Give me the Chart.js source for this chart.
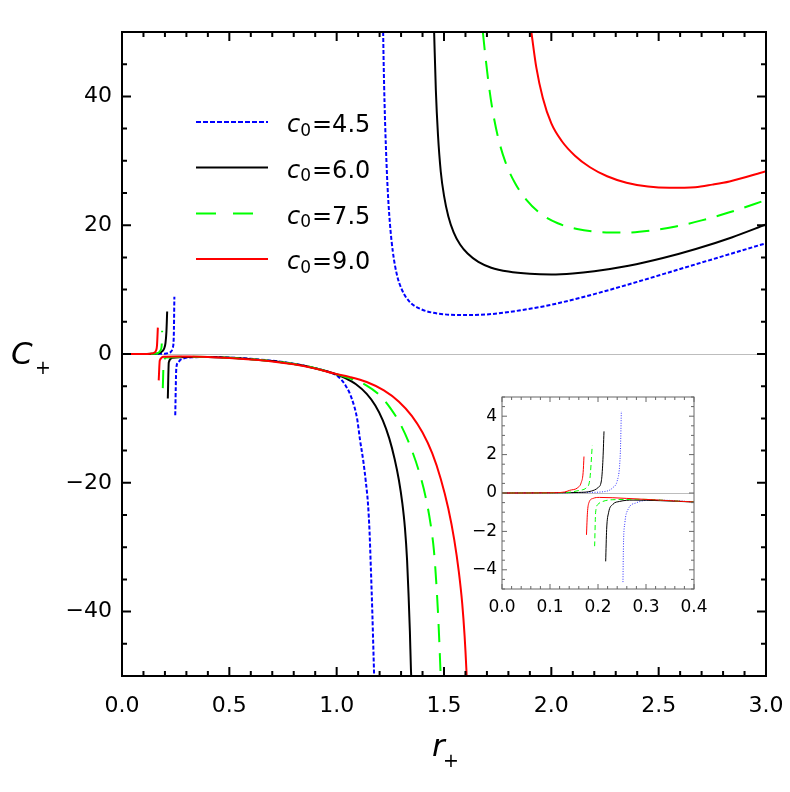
<!DOCTYPE html>
<html>
<head>
<meta charset="utf-8">
<script src="https://cdn.jsdelivr.net/npm/chart.js@4.4.0/dist/chart.umd.min.js"></script>
<style>
  html, body { margin: 0; padding: 0; background: #fff; }
  #wrap { position: relative; width: 790px; height: 792px; }
  #main { position: absolute; left: 0; top: 0; }
  #inset { position: absolute; left: 466px; top: 385px; }
</style>
</head>
<body>
<div id="wrap">
  <canvas id="main" width="790" height="792"></canvas>
  <canvas id="inset" width="246" height="235"></canvas>
</div>
<script>
// c0 values shown in the legend
const c0Labels = ['4.5', '6.0', '7.5', '9.0'];

// main plot ticks
const xTicks = [0, 0.5, 1.0, 1.5, 2.0, 2.5, 3.0];
const yTicks = [-40, -20, 0, 20, 40];
// inset ticks
const xTicksInset = [0, 0.1, 0.2, 0.3, 0.4];
const yTicksInset = [-4, -2, 0, 2, 4];

// main curves (null = break at a divergence)
const r45 = [0, 0.05, 0.1, 0.15, 0.2, 0.215, 0.228, 0.236, 0.241, 0.244, 0.246,
  0.248, 0.253, 0.262, 0.272, 0.29, 0.334, 0.4, 0.5, 0.6, 0.7, 0.8, 0.9, 0.95, 0.984, 1.01, 1.04, 1.07, 1.095, 1.109, 1.124, 1.136, 1.146, 1.153, 1.159, 1.166, 1.172, 1.175, 1.196,
  1.2165, 1.219, 1.223, 1.229, 1.237, 1.248, 1.262, 1.28, 1.305, 1.34, 1.39, 1.45, 1.53, 1.62, 1.72, 1.85, 2.0, 2.2, 2.4, 2.6, 2.8, 3.0];
const C45 = [0, 0, 0.01, 0.02, 0.05, 0.15, 0.35, 0.9, 2.5, 8.9, null,
  -9.5, -2.2, -1.3, -0.9, -0.65, -0.5, -0.45, -0.55, -0.75, -1.05, -1.5, -2.2, -2.65, -3.05, -3.6, -4.8, -6.9, -10.0, -13.4, -16.6, -19.9, -23.3, -27.5, -33, -40, -47, -50.5, null,
  50, 45, 39, 32.5, 26.0, 20.3, 15.8, 12.4, 9.9, 8.1, 7.0, 6.4, 6.1, 6.05, 6.2, 6.75, 7.65, 9.3, 11.2, 13.2, 15.2, 17.2];

const r60 = [0, 0.05, 0.1, 0.15, 0.175, 0.187, 0.197, 0.2025, 0.207, 0.2104, 0.212,
  0.2134, 0.218, 0.2337, 0.3, 0.4, 0.5, 0.6, 0.7, 0.8, 0.9, 0.984, 1.04, 1.09, 1.14, 1.18, 1.215, 1.245, 1.27, 1.29, 1.306, 1.318, 1.328, 1.335, 1.341, 1.346, 1.348, 1.4,
  1.454, 1.462, 1.472, 1.485, 1.50, 1.52, 1.545, 1.575, 1.61, 1.66, 1.72, 1.80, 1.90, 2.0, 2.1, 2.2, 2.36, 2.52, 2.673, 2.84, 3.0];
const C60 = [0, 0, 0.01, 0.04, 0.15, 0.4, 0.9, 1.7, 3.5, 6.6, null,
  -6.9, -1.3, -0.6, -0.45, -0.45, -0.6, -0.8, -1.1, -1.55, -2.2, -3.0, -3.75, -4.7, -6.2, -8.0, -10.3, -13.1, -16.3, -19.6, -23.2, -27.0, -32, -37.5, -43, -49, -50.5, null,
  50, 41, 34, 28.3, 24.6, 21.4, 18.9, 17.0, 15.6, 14.3, 13.4, 12.8, 12.45, 12.35, 12.5, 12.85, 13.7, 14.9, 16.3, 18.1, 20.1];

const r75 = [0, 0.05, 0.1, 0.15, 0.17, 0.18, 0.185, 0.187, 0.1885,
  0.19, 0.1946, 0.21, 0.25, 0.3, 0.4, 0.5, 0.6, 0.7, 0.8, 0.9, 0.984, 1.06, 1.14, 1.2, 1.25, 1.3, 1.345, 1.385, 1.415, 1.437, 1.453, 1.465, 1.474, 1.481, 1.485, 1.58,
  1.681, 1.692, 1.706, 1.724, 1.75, 1.785, 1.83, 1.885, 1.95, 2.03, 2.12, 2.22, 2.34, 2.46, 2.58, 2.70, 2.83, 3.0];
const C75 = [0, 0, 0.01, 0.05, 0.2, 0.6, 1.4, 3.6, null,
  -5.3, -1.0, -0.55, -0.45, -0.42, -0.45, -0.6, -0.8, -1.1, -1.55, -2.2, -3.0, -3.75, -4.9, -6.4, -8.4, -11.1, -14.5, -18.4, -22.3, -26.3, -30.5, -36, -41.5, -47, -50.5, null,
  50, 46.5, 42.5, 38.3, 33.9, 29.9, 26.6, 23.9, 21.8, 20.3, 19.4, 18.95, 18.85, 19.15, 19.8, 20.75, 22.0, 23.9];

const r90 = [0, 0.05, 0.1, 0.13, 0.15, 0.158, 0.163, 0.167, 0.169,
  0.171, 0.176, 0.195, 0.25, 0.3, 0.4, 0.5, 0.6, 0.7, 0.8, 0.9, 0.984, 1.06, 1.14, 1.22, 1.29, 1.35, 1.40, 1.445, 1.485, 1.52, 1.548, 1.569, 1.585, 1.596, 1.604, 1.606, 1.75,
  1.907, 1.93, 1.96, 2.0, 2.05, 2.11, 2.18, 2.26, 2.35, 2.45, 2.55, 2.67, 2.75, 2.83, 3.0];
const C90 = [0, 0, 0.01, 0.05, 0.2, 0.5, 1.3, 4.1, null,
  -4.1, -1.0, -0.42, -0.38, -0.4, -0.47, -0.62, -0.85, -1.15, -1.6, -2.25, -3.0, -3.55, -4.35, -5.65, -7.4, -9.6, -12.2, -15.4, -19.4, -24.0, -28.9, -33.8, -38.8, -43.8, -48.8, -50.5, null,
  50, 44.5, 39.8, 35.8, 33.0, 30.8, 29.0, 27.6, 26.6, 26.0, 25.8, 25.9, 26.3, 26.8, 28.4];

// inset curves (0 < r < 0.4)
const ri45 = [0, 0.1, 0.18, 0.217, 0.231, 0.24, 0.245, 0.247, 0.2486, 0.25,
  0.252, 0.253, 0.256, 0.2625, 0.28, 0.315, 0.363, 0.4];
const Ci45 = [0, 0.01, 0.03, 0.09, 0.28, 0.63, 1.41, 2.46, 4.26, null,
  -4.64, -2.77, -1.55, -0.86, -0.51, -0.37, -0.4, -0.47];
const ri60 = [0, 0.1, 0.16, 0.186, 0.2, 0.207, 0.21, 0.2125, 0.214,
  0.216, 0.218, 0.222, 0.231, 0.245, 0.273, 0.33, 0.4];
const Ci60 = [0, 0.01, 0.03, 0.1, 0.28, 0.63, 1.59, 3.21, null,
  -3.56, -1.90, -1.03, -0.59, -0.44, -0.37, -0.4, -0.47];
const ri75 = [0, 0.1, 0.14, 0.162, 0.176, 0.183, 0.188, 0.19,
  0.193, 0.195, 0.2, 0.21, 0.231, 0.294, 0.35, 0.4];
const Ci75 = [0, 0.01, 0.04, 0.14, 0.28, 0.72, 2.46, null,
  -2.77, -1.03, -0.59, -0.44, -0.35, -0.33, -0.4, -0.47];
const ri90 = [0, 0.05, 0.1, 0.13, 0.141, 0.158, 0.165, 0.169, 0.1708, 0.173,
  0.176, 0.178, 0.181, 0.19, 0.203, 0.259, 0.328, 0.4];
const Ci90 = [0, 0, 0.01, 0.05, 0.14, 0.28, 0.54, 1.06, 1.90, null,
  -2.18, -1.03, -0.51, -0.28, -0.23, -0.28, -0.37, -0.47];

const FONT = '"DejaVu Sans", "Liberation Sans", Arial, sans-serif';

function pts(rs, cs) {
  return rs.map((r, i) => ({ x: r, y: cs[i] }));
}

function minusFmt(v) {
  return v < 0 ? '\u2212' + Math.abs(v) : String(v);
}

// fixed axis sizes; drop the label overflow padding so the plot box stays put
function fixX(h) {
  return s => { s.height = h; s.paddingLeft = 0; s.paddingRight = 0; };
}
function fixY(w) {
  return s => { s.width = w; s.paddingTop = 0; s.paddingBottom = 0; };
}

// frame + inward ticks on all four sides, and the gray zero line
function framePlugin(o) {
  return {
    id: 'frame',
    beforeDatasetsDraw(chart) {
      const { ctx, chartArea: a, scales } = chart;
      const y0 = Math.round(scales.y.getPixelForValue(0)) + 0.5;
      ctx.save();
      ctx.strokeStyle = o.zeroColor;
      ctx.lineWidth = 1;
      ctx.beginPath();
      ctx.moveTo(a.left, y0);
      ctx.lineTo(a.right, y0);
      ctx.stroke();
      ctx.restore();
    },
    afterDatasetsDraw(chart) {
      const { ctx, chartArea: a, scales } = chart;
      const xs = scales.x, ys = scales.y;
      ctx.save();
      ctx.strokeStyle = o.color;
      ctx.lineWidth = o.tickWidth;
      ctx.beginPath();
      const nx = Math.round((xs.max - xs.min) / o.xMinor);
      for (let i = 0; i <= nx; i++) {
        const v = xs.min + i * o.xMinor;
        const major = o.xMajor.some(t => Math.abs(t - v) < 1e-9);
        const len = major ? o.majLen : o.minLen;
        const px = xs.getPixelForValue(v);
        ctx.moveTo(px, a.bottom); ctx.lineTo(px, a.bottom - len);
        ctx.moveTo(px, a.top); ctx.lineTo(px, a.top + len);
      }
      const ny = Math.round((ys.max - ys.min) / o.yMinor);
      for (let i = 0; i <= ny; i++) {
        const v = ys.min + i * o.yMinor;
        const major = o.yMajor.some(t => Math.abs(t - v) < 1e-9);
        const len = major ? o.majLen : o.minLen;
        const py = ys.getPixelForValue(v);
        ctx.moveTo(a.left, py); ctx.lineTo(a.left + len, py);
        ctx.moveTo(a.right, py); ctx.lineTo(a.right - len, py);
      }
      ctx.stroke();
      ctx.lineWidth = o.frameWidth;
      ctx.strokeRect(a.left, a.top, a.right - a.left, a.bottom - a.top);
      ctx.restore();
    }
  };
}

// legend and axis titles with subscripts
const labelsPlugin = {
  id: 'labels',
  afterDraw(chart) {
    const { ctx, chartArea: a } = chart;
    ctx.save();
    ctx.textBaseline = 'alphabetic';
    ctx.textAlign = 'left';
    ctx.fillStyle = '#000';
    const ly = [122, 167.5, 213.5, 259];
    chart.data.datasets.forEach((ds, i) => {
      const y = ly[i];
      ctx.strokeStyle = ds.borderColor;
      ctx.lineWidth = 2;
      ctx.setLineDash(ds.legendDash || []);
      ctx.beginPath();
      ctx.moveTo(196, y);
      ctx.lineTo(268, y);
      ctx.stroke();
      ctx.setLineDash([]);
      let x = 287;
      ctx.font = 'italic 24px ' + FONT;
      ctx.fillText('c', x, y + 10);
      x += ctx.measureText('c').width;
      ctx.font = '17px ' + FONT;
      ctx.fillText('0', x, y + 13.5);
      x += ctx.measureText('0').width + 1;
      ctx.font = '24px ' + FONT;
      ctx.fillText('=' + c0Labels[i], x, y + 10);
    });
    // y title
    ctx.font = 'italic 31px ' + FONT;
    ctx.fillText('C', 11, 364);
    ctx.font = '19px ' + FONT;
    ctx.fillText('+', 35, 374);
    // x title
    const cx = (a.left + a.right) / 2;
    ctx.font = 'italic 31px ' + FONT;
    ctx.fillText('r', cx - 12, 756);
    ctx.font = '19px ' + FONT;
    ctx.fillText('+', cx - 1, 767);
    ctx.restore();
  }
};

const mainSeries = [
  { r: r45, c: C45, color: '#0000ff', dash: [4, 2], legendDash: [5, 2], order: 3 },
  { r: r60, c: C60, color: '#000000', dash: [], legendDash: [], order: 2 },
  { r: r75, c: C75, color: '#00ff00', dash: [18, 11], legendDash: [20, 17], order: 1 },
  { r: r90, c: C90, color: '#ff0000', dash: [], legendDash: [], order: 0 }
];

new Chart(document.getElementById('main'), {
  type: 'line',
  data: {
    datasets: mainSeries.map((s, i) => ({
      label: 'c0=' + c0Labels[i],
      data: pts(s.r, s.c),
      borderColor: s.color,
      borderWidth: 2,
      borderDash: s.dash,
      legendDash: s.legendDash,
      pointRadius: 0,
      fill: false,
      spanGaps: false,
      cubicInterpolationMode: 'monotone',
      order: s.order
    }))
  },
  options: {
    responsive: false,
    animation: false,
    layout: { padding: { left: 0, top: 32, right: 24, bottom: 0 } },
    plugins: { legend: { display: false }, tooltip: { enabled: false } },
    scales: {
      x: {
        type: 'linear', min: 0, max: 3,
        afterBuildTicks: s => { s.ticks = xTicks.map(v => ({ value: v })); },
        afterFit: fixX(116),
        grid: { display: false, drawTicks: false },
        border: { display: false },
        ticks: {
          color: '#000', font: { family: FONT, size: 22 }, padding: 17,
          maxRotation: 0, autoSkip: false, callback: v => v.toFixed(1)
        }
      },
      y: {
        type: 'linear', min: -50, max: 50,
        afterBuildTicks: s => { s.ticks = yTicks.map(v => ({ value: v })); },
        afterFit: fixY(122),
        grid: { display: false, drawTicks: false },
        border: { display: false },
        ticks: {
          color: '#000', font: { family: FONT, size: 22 }, padding: 10,
          autoSkip: false, callback: v => minusFmt(v)
        }
      }
    }
  },
  plugins: [
    framePlugin({ color: '#000', tickWidth: 2, frameWidth: 2, majLen: 9, minLen: 5,
      xMinor: 0.1, yMinor: 5, xMajor: xTicks, yMajor: yTicks, zeroColor: '#bdbdbd' }),
    labelsPlugin
  ]
});

const insetSeries = [
  { r: ri45, c: Ci45, color: '#3030ff', dash: [1, 1.5], order: 3 },
  { r: ri60, c: Ci60, color: '#000000', dash: [], order: 2 },
  { r: ri75, c: Ci75, color: '#00ff00', dash: [5, 3], order: 1 },
  { r: ri90, c: Ci90, color: '#ff0000', dash: [], order: 0 }
];

// inset canvas: left 466, chart area 502..694 x 397..589
new Chart(document.getElementById('inset'), {
  type: 'line',
  data: {
    datasets: insetSeries.map((s, i) => ({
      label: 'c0=' + c0Labels[i],
      data: pts(s.r, s.c),
      borderColor: s.color,
      borderWidth: 1,
      borderDash: s.dash,
      pointRadius: 0,
      fill: false,
      spanGaps: false,
      cubicInterpolationMode: 'monotone',
      order: s.order
    }))
  },
  options: {
    responsive: false,
    animation: false,
    layout: { padding: { left: 0, top: 12, right: 18, bottom: 0 } },
    plugins: { legend: { display: false }, tooltip: { enabled: false } },
    scales: {
      x: {
        type: 'linear', min: 0, max: 0.4,
        afterBuildTicks: s => { s.ticks = xTicksInset.map(v => ({ value: v })); },
        afterFit: fixX(31),
        grid: { display: false, drawTicks: false },
        border: { display: false },
        ticks: {
          color: '#000', font: { family: FONT, size: 17 }, padding: 8,
          maxRotation: 0, autoSkip: false, callback: v => v.toFixed(1)
        }
      },
      y: {
        type: 'linear', min: -5, max: 5,
        afterBuildTicks: s => { s.ticks = yTicksInset.map(v => ({ value: v })); },
        afterFit: fixY(36),
        grid: { display: false, drawTicks: false },
        border: { display: false },
        ticks: {
          color: '#000', font: { family: FONT, size: 17 }, padding: 5,
          autoSkip: false, callback: v => minusFmt(v)
        }
      }
    }
  },
  plugins: [
    framePlugin({ color: '#666', tickWidth: 1, frameWidth: 1, majLen: 5, minLen: 3,
      xMinor: 0.02, yMinor: 0.5, xMajor: xTicksInset, yMajor: yTicksInset, zeroColor: '#bdbdbd' })
  ]
});
</script>
</body>
</html>
